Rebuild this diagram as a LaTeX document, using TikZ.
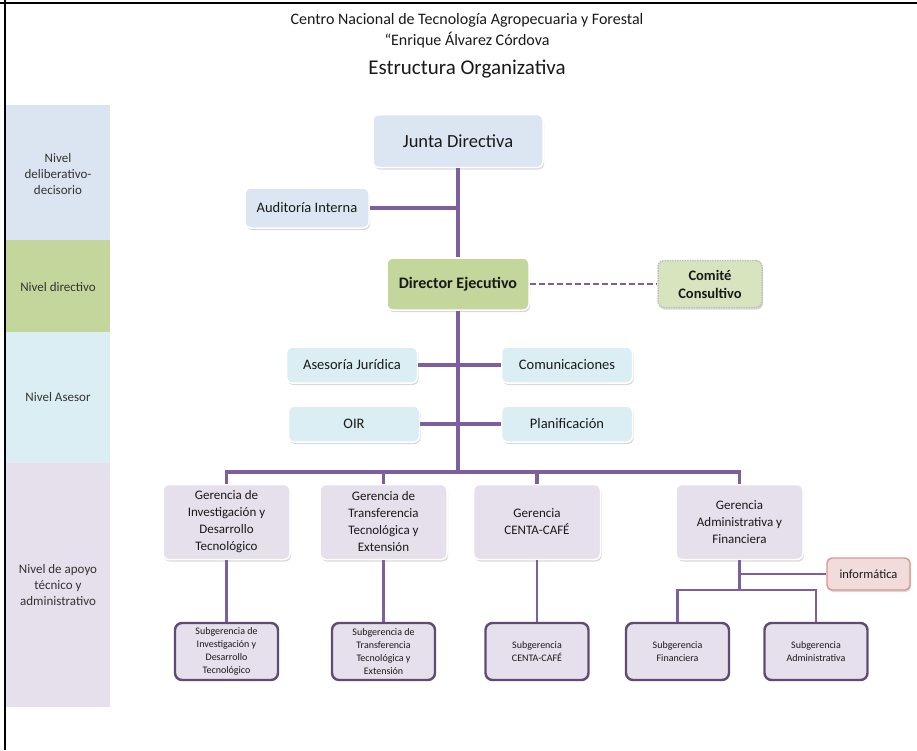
\documentclass[tikz,border=0pt]{standalone}
\usepackage{fontspec}
\setmainfont{Carlito}
\usetikzlibrary{shadows}

\definecolor{nivDelib}{HTML}{DBE5F1}
\definecolor{nivDir}{HTML}{C3D69B}
\definecolor{nivAses}{HTML}{DBEEF4}
\definecolor{nivApoyo}{HTML}{E5E0EC}
\definecolor{cajaAzul}{HTML}{DCE6F2}
\definecolor{cajaVerde}{HTML}{D7E4BD}
\definecolor{lineaMorada}{HTML}{7D5FA0}
\definecolor{bordeSub}{HTML}{5F4B73}
\definecolor{cajaRosa}{HTML}{F2DCDB}
\definecolor{bordeRosa}{HTML}{D99694}

\begin{document}
\begin{tikzpicture}[x=1pt, y=-1pt,
        texto/.style={text=black!90, align=center, inner sep=0pt},
        caja/.style={texto, rounded corners=6pt, draw=white, line width=1.5pt,
            drop shadow={shadow xshift=1pt, shadow yshift=-2pt, opacity=0.3}},
        nivel/.style={texto, text=black!80, font=\fontsize{13}{16}\selectfont},
        gerencia/.style={caja, fill=nivApoyo, minimum width=127pt, minimum height=75pt,
            font=\fontsize{13}{17}\selectfont},
        subgerencia/.style={texto, rounded corners=7pt, fill=nivApoyo, draw=bordeSub,
            line width=2.4pt, minimum width=103pt, minimum height=57pt,
            font=\fontsize{10}{13}\selectfont},
        asesor/.style={caja, fill=nivAses, minimum width=131pt, minimum height=36pt,
            font=\fontsize{14.5}{17}\selectfont},
        enlace/.style={lineaMorada, line width=3.2pt},
        enlacesub/.style={lineaMorada, line width=2.2pt}]

    \useasboundingbox (0,0) rectangle (917,750);

    % marco
    \draw[line width=2.5pt] (0,3) -- (917,3);
    \draw[line width=2.5pt] (5,0) -- (5,750);

    % titulos
    \node[texto, font=\fontsize{16}{21}\selectfont] (titulo)
        at (467,31) {Centro Nacional de Tecnología Agropecuaria y Forestal\\
                     “Enrique Álvarez Córdova};
    \node[texto, font=\fontsize{21}{24}\selectfont] (estructura)
        at (467,69) {Estructura Organizativa};

    % franjas de niveles
    \fill[nivDelib] (6,105) rectangle (110,240);
    \fill[nivDir]   (6,240) rectangle (110,332);
    \fill[nivAses]  (6,332) rectangle (110,463);
    \fill[nivApoyo] (6,463) rectangle (110,707);

    \node[nivel] (nDelib) at (58,174) {Nivel\\deliberativo-\\decisorio};
    \node[nivel] (nDir)   at (58,287) {Nivel directivo};
    \node[nivel] (nAses)  at (58,397) {Nivel Asesor};
    \node[nivel] (nApoyo) at (58,585) {Nivel de apoyo\\técnico y\\administrativo};

    % cajas superiores
    \node[caja, fill=cajaAzul, minimum width=170pt, minimum height=53pt,
          font=\fontsize{18.5}{22}\selectfont] (junta) at (458,141) {Junta Directiva};
    \node[caja, fill=cajaAzul, minimum width=124pt, minimum height=40pt,
          font=\fontsize{14.5}{17}\selectfont] (auditoria) at (307,208) {Auditoría Interna};
    \node[caja, fill=nivDir, minimum width=142pt, minimum height=52pt,
          font=\bfseries\fontsize{16}{19}\selectfont] (director) at (458,284) {Director Ejecutivo};
    \node[caja, fill=cajaVerde, draw=black!25, densely dotted, minimum width=104pt,
          minimum height=47pt, font=\bfseries\fontsize{14.5}{18}\selectfont]
          (comite) at (710,284) {Comité\\Consultivo};

    \node[asesor] (juridica)  at (352,365) {Asesoría Jurídica};
    \node[asesor] (oir)       at (354,424) {OIR};
    \node[asesor] (comunic)   at (567,365) {Comunicaciones};
    \node[asesor] (planif)    at (567,424) {Planificación};

    % gerencias
    \node[gerencia] (gInv)   at (226.5,522) {Gerencia de\\Investigación y\\Desarrollo\\Tecnológico};
    \node[gerencia] (gTrans) at (383.5,522) {Gerencia de\\Transferencia\\Tecnológica y\\Extensión};
    \node[gerencia] (gCafe)  at (537,522)   {Gerencia\\CENTA-CAFÉ};
    \node[gerencia] (gAdm)   at (739.5,522) {Gerencia\\Administrativa y\\Financiera};

    \node[caja, rounded corners=5pt, fill=cajaRosa, draw=bordeRosa, line width=1.4pt,
          minimum width=83pt, minimum height=32pt, font=\fontsize{12.5}{15}\selectfont]
          (informatica) at (868.5,574) {informática};

    % subgerencias
    \node[subgerencia] (sInv)   at (226.5,651.5) {Subgerencia de\\Investigación y\\Desarrollo\\Tecnológico};
    \node[subgerencia] (sTrans) at (383.5,651.5) {Subgerencia de\\Transferencia\\Tecnológica y\\Extensión};
    \node[subgerencia] (sCafe)  at (537,651.5)   {Subgerencia\\CENTA-CAFÉ};
    \node[subgerencia] (sFin)   at (677.5,651.5) {Subgerencia\\Financiera};
    \node[subgerencia] (sAdm)   at (816,651.5)   {Subgerencia\\Administrativa};

    % conexiones
    \coordinate (bus) at (458,472);
    \coordinate (reparto) at (739.5,590);

    \draw[enlace] (junta) -- (director);
    \draw[enlace] (auditoria.east) -- (auditoria.east -| junta);
    \draw[enlace] (director) -- (bus);
    \draw[enlace] (juridica.east) -- (juridica.east -| director);
    \draw[enlace] (oir.east) -- (oir.east -| director);
    \draw[enlace] (comunic.west) -- (comunic.west -| director);
    \draw[enlace] (planif.west) -- (planif.west -| director);
    \draw[enlace] (gInv.north) |- (bus) -| (gAdm.north);
    \draw[enlace] (bus -| gTrans) -- (gTrans.north);
    \draw[enlace] (bus -| gCafe) -- (gCafe.north);
    \draw[lineaMorada, line width=2.4pt, dash pattern=on 6pt off 3pt]
        (director.east) -- (comite.west);

    \draw[enlacesub] (gInv) -- (sInv);
    \draw[enlacesub] (gTrans) -- (sTrans);
    \draw[enlacesub] (gCafe) -- (sCafe);
    \draw[enlacesub] (gAdm) -- (reparto);
    \draw[enlacesub] (gAdm.south |- informatica) -- (informatica.west);
    \draw[enlacesub] (sFin.north) |- (reparto) -| (sAdm.north);
\end{tikzpicture}
\end{document}
